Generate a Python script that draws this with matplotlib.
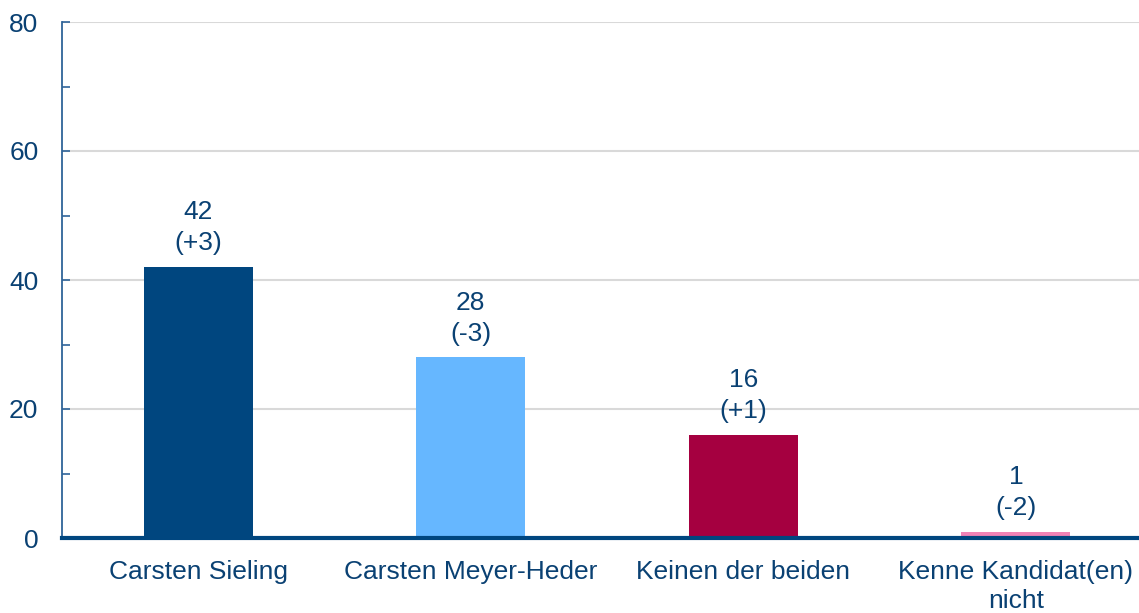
import matplotlib
matplotlib.use("Agg")
import matplotlib.pyplot as plt
from matplotlib.ticker import MultipleLocator

categories = ["Carsten Sieling", "Carsten Meyer-Heder", "Keinen der beiden", "Kenne Kandidat(en)\nnicht"]
values = [42, 28, 16, 1]
changes = ["(+3)", "(-3)", "(+1)", "(-2)"]
colors = ["#00467f", "#66b7ff", "#a50040", "#f283b6"]

text_color = "#0a4173"
plt.rcParams['font.family'] = ['Liberation Sans', 'DejaVu Sans']

fig = plt.figure(figsize=(11.39, 6.13), dpi=100)
W, H = 1139, 613
ax = fig.add_axes([62 / W, 1 - 538 / H, (1139 - 62) / W, (538 - 22) / H])

x = list(range(len(categories)))
ax.bar(x, values, width=0.4, color=colors, zorder=3)
ax.set_xlim(-0.5, 3.452)
ax.set_ylim(0, 80)

for xi, v, c in zip(x, values, changes):
    ax.annotate(f"{v}\n{c}", (xi, v), xytext=(0, 8.5), textcoords="offset points",
                ha="center", va="bottom", fontsize=19, color=text_color, linespacing=1.36)

ax.yaxis.set_major_locator(MultipleLocator(20))
ax.yaxis.set_minor_locator(MultipleLocator(10))
ax.grid(axis="y", which="major", color="#d9d9d9", linewidth=1.5, zorder=0)
ax.set_xticks(x)
ax.set_xticklabels(categories, fontsize=19, color=text_color, linespacing=1.23)
ax.tick_params(axis="x", length=0, pad=16)
ax.tick_params(axis="y", which="both", direction="in", length=6, width=1.2, color="#2f6499",
               labelsize=19, labelcolor=text_color, pad=17)

for s in ["top", "right"]:
    ax.spines[s].set_visible(False)
ax.spines["left"].set_color("#2f6499")
ax.spines["left"].set_linewidth(1.3)
ax.spines["bottom"].set_color("#00467f")
ax.spines["bottom"].set_linewidth(3)
ax.spines["bottom"].set_zorder(4)

fig.savefig("out.png", dpi=100)
